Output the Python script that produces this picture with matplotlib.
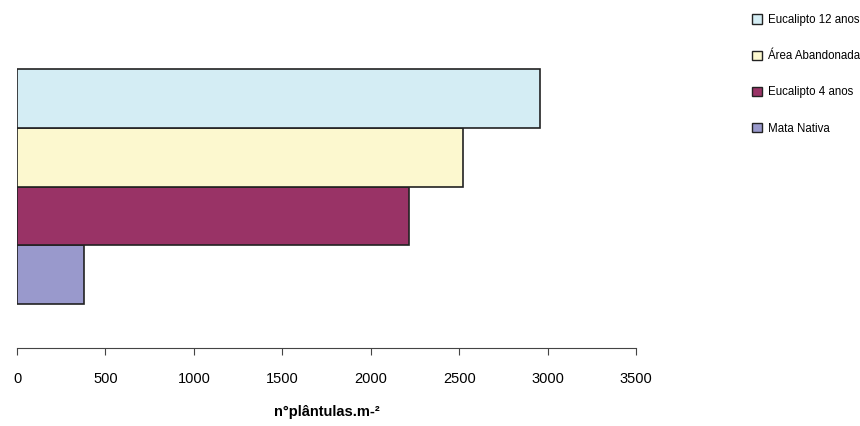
import matplotlib.pyplot as plt
from matplotlib.patches import Patch

plt.rcParams['font.family'] = ['Liberation Sans', 'DejaVu Sans']

categories = ["Mata Nativa", "Eucalipto 4 anos", "Área Abandonada", "Eucalipto 12 anos"]
values = [380, 2215, 2520, 2960]
colors = ["#9999CC", "#993366", "#FCF8CF", "#D4EDF4"]
xticks = [0, 500, 1000, 1500, 2000, 2500, 3000, 3500]

fig = plt.figure(figsize=(8.6, 4.26), dpi=100)
ax = fig.add_axes([17/860, 78/426, 619/860, 323/426])

ypos = list(range(len(categories)))
ax.barh(ypos, values, height=1.0, color=colors, edgecolor="#222222", linewidth=1.2)

ax.set_xlim(0, 3500)
ax.set_ylim(-1.25, 4.25)
ax.set_xticks(xticks)
ax.set_xticklabels([str(t) for t in xticks], fontsize=10.5)
ax.set_yticks([])
for s in ["top", "right", "left"]:
    ax.spines[s].set_visible(False)
ax.spines["bottom"].set_color("#444444")
ax.tick_params(axis="x", direction="out", length=5, color="#444444", pad=12)
ax.set_xlabel("n°plântulas.m-²", fontsize=10.5, fontweight="bold", labelpad=14)

handles = [Patch(facecolor=colors[i], edgecolor="#222222", label=categories[i])
           for i in reversed(range(len(categories)))]
fig.legend(handles=handles, loc="upper left", bbox_to_anchor=(752/860, 1 - 14/426),
           frameon=False, fontsize=8.3, handlelength=0.85, handleheight=0.85,
           handletextpad=0.55, labelspacing=2.1, borderaxespad=0, borderpad=0)

fig.savefig("out.png", dpi=100)
